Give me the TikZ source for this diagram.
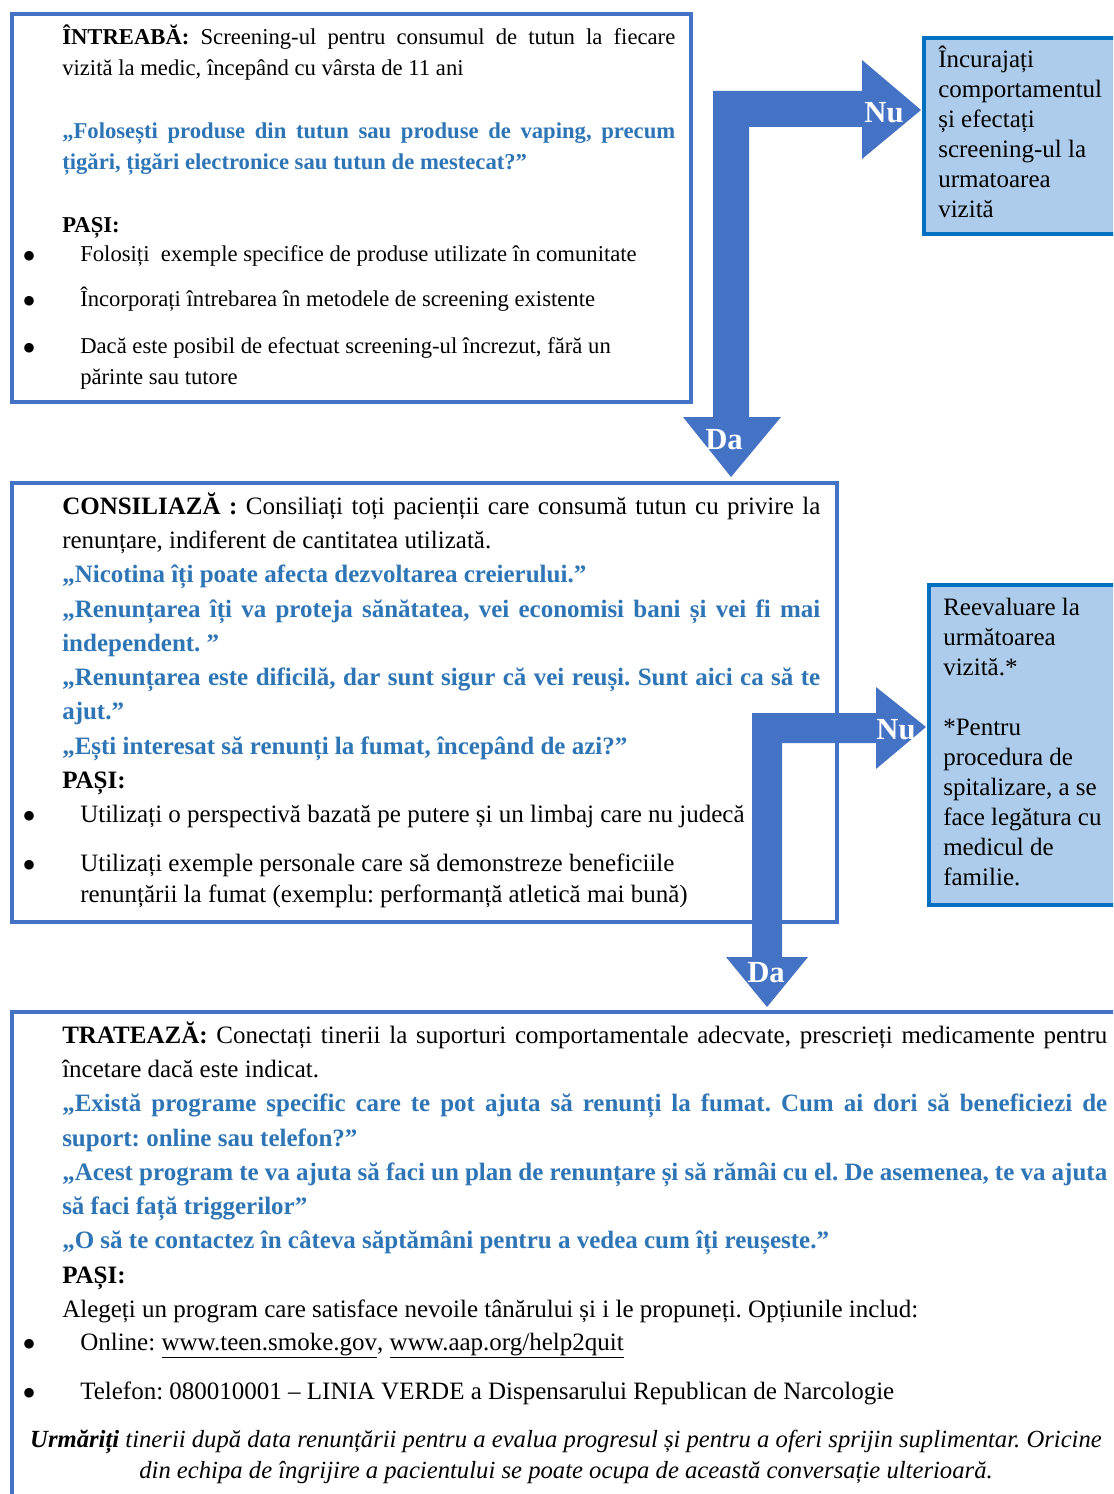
\documentclass[tikz,border=0pt]{standalone}
\usepackage{fontspec}
\setmainfont{Liberation Serif}
\definecolor{boxblue}{HTML}{4472C4}
\definecolor{sideborder}{HTML}{0070C0}
\definecolor{sidefill}{HTML}{ADCBEA}
\definecolor{quoteblue}{HTML}{2E75B6}
\newcommand\jl[2]{\makebox[#1][s]{#2}}
\newcommand\fsz[2]{\fontsize{#1}{#2}\selectfont}
\newcommand\qline[1]{\textcolor{quoteblue}{\bfseries #1}}
\newcommand\st{\rule{0pt}{1em}}
\frenchspacing
\begin{document}
\begin{tikzpicture}[x=0.75pt,y=-0.75pt,
  boxframe/.style={draw=boxblue, line width=3pt, anchor=north west, inner sep=0pt},
  sideframe/.style={draw=sideborder, fill=sidefill, line width=3pt, anchor=north west, inner sep=0pt},
  txtnode/.style={anchor=north west, inner sep=0pt, align=left, execute at begin node=\frenchspacing},
  ftop/.style={font=\fsz{17}{23.25}},
  fmain/.style={font=\fsz{18.75}{25.69}},
  fwrap/.style={font=\fsz{18.75}{23.25}},
  fside/.style={font=\fsz{18.75}{22.5}},
  bulnode/.style={anchor=center, inner sep=0pt, font=\fsz{30}{30}},
  arrlabel/.style={text=white, font=\bfseries\fsz{23}{23}, inner sep=0pt},
  blockarrow/.style={fill=boxblue}
]
\useasboundingbox (0,0) rectangle (1113,1494);
\fill[white] (0,0) rectangle (1113,1494);
\clip (0,0) rectangle (1113,1494);

% boxes
\node[boxframe, minimum width=509.25pt, minimum height=291pt] (askbox) at (10,12) {};
\node[boxframe, minimum width=618.75pt, minimum height=329.25pt] (consbox) at (10,481) {};
\node[boxframe, minimum width=836.25pt, minimum height=375pt] (treatbox) at (10,1010) {};
\node[sideframe, minimum width=152.25pt, minimum height=147pt] (encbox) at (922,36) {};
\node[sideframe, minimum width=148.5pt, minimum height=240pt] (reevbox) at (927,583) {};

% ASK box text
\node[txtnode, ftop] (ask1) at (62,21.3) {\st\jl{459.75pt}{\textbf{ÎNTREABĂ:} Screening-ul pentru consumul de tutun la fiecare}\\ vizită la medic, începând cu vârsta de 11 ani};
\node[txtnode, ftop] (ask2) at (62,115.3) {\st\qline{\jl{459.75pt}{„Folosești produse din tutun sau produse de vaping, precum}}\\ \qline{țigări, țigări electronice sau tutun de mestecat?”}};
\node[txtnode, ftop] (ask3) at (62,209.3) {\st\textbf{PAȘI:}};
\node[bulnode] (askb1d) at (30,260) {•};
\node[bulnode] (askb2d) at (30,305) {•};
\node[bulnode] (askb3d) at (30,352) {•};
\node[txtnode, ftop] (askb1) at (80,238.3) {\st Folosiți\ \ exemple specifice de produse utilizate în comunitate};
\node[txtnode, ftop] (askb2) at (80,283.3) {\st Încorporați întrebarea în metodele de screening existente};
\node[txtnode, ftop] (askb3) at (80,330.3) {\st Dacă este posibil de efectuat screening-ul încrezut, fără un\\ părinte sau tutore};

% right box 1
\node[txtnode, fside] (enc) at (938,42) {\st Încurajați\\ comportamentul\\ și efectați\\ screening-ul la\\ urmatoarea\\ vizită};

% COUNSEL box text
\node[txtnode, fmain] (cons) at (62,489) {\st\jl{568.5pt}{\textbf{CONSILIAZĂ :} Consiliați toți pacienții care consumă tutun cu privire la}\\
renunțare, indiferent de cantitatea utilizată.\\
\qline{„Nicotina îți poate afecta dezvoltarea creierului.”}\\
\qline{\jl{568.5pt}{„Renunțarea îți va proteja sănătatea, vei economisi bani și vei fi mai}}\\
\qline{independent.\ ”}\\
\qline{\jl{568.5pt}{„Renunțarea este dificilă, dar sunt sigur că vei reuși. Sunt aici ca să te}}\\
\qline{ajut.”}\\
\qline{„Ești interesat să renunți la fumat, începând de azi?”}\\
\textbf{PAȘI:}};
\node[bulnode] (consb1d) at (30,820) {•};
\node[bulnode] (consb2d) at (30,869) {•};
\node[txtnode, fmain] (consb1) at (80,797) {\st Utilizați o perspectivă bazată pe putere și un limbaj care nu judecă};
\node[txtnode, fwrap] (consb2) at (80,846) {\st Utilizați exemple personale care să demonstreze beneficiile\\ renunțării la fumat (exemplu: performanță atletică mai bună)};

% right box 2
\node[txtnode, fside] (reev) at (943,590) {\st Reevaluare la\\ următoarea\\ vizită.*\\ \mbox{}\\ *Pentru\\ procedura de\\ spitalizare, a se\\ face legătura cu\\ medicul de\\ familie.};

% TREAT box text
\node[txtnode, fmain] (treat) at (62,1018) {\st\jl{783.75pt}{\textbf{TRATEAZĂ:} Conectați tinerii la suporturi comportamentale adecvate, prescrieți medicamente pentru}\\
încetare dacă este indicat.\\
\qline{\jl{783.75pt}{„Există programe specific care te pot ajuta să renunți la fumat. Cum ai dori să beneficiezi de}}\\
\qline{suport: online sau telefon?”}\\
\qline{\jl{783.75pt}{„Acest program te va ajuta să faci un plan de renunțare și să rămâi cu el. De asemenea, te va ajuta}}\\
\qline{să faci față triggerilor”}\\
\qline{„O să te contactez în câteva săptămâni pentru a vedea cum îți reușeste.”}\\
\textbf{PAȘI:}\\
Alegeți un program care satisface nevoile tânărului și i le propuneți. Opțiunile includ:};
\node[bulnode] (treatb1d) at (30,1348) {•};
\node[bulnode] (treatb2d) at (30,1397) {•};
\node[txtnode, fmain] (treatb1) at (80,1325) {\st Online: \underline{www.teen.smoke.gov}, \underline{www.aap.org/help2quit}};
\node[txtnode, fmain] (treatb2) at (80,1374) {\st Telefon: 080010001 – LINIA VERDE a Dispensarului Republican de Narcologie};
\node[anchor=north, inner sep=0pt, align=center, font=\itshape\fsz{18.5}{23.25}, execute at begin node=\frenchspacing] (follow) at (566,1423) {\st\textbf{Urmăriți} tinerii după data renunțării pentru a evalua progresul și pentru a oferi sprijin suplimentar. Oricine\\ din echipa de îngrijire a pacientului se poate ocupa de această conversație ulterioară.};

% block arrows
\fill[blockarrow] (713,91) -- (862,91) -- (862,60) -- (921,110) -- (862,159) -- (862,127) -- (749,127) -- (749,417) -- (781,417) -- (731,477) -- (683,417) -- (713,417) -- cycle;
\fill[blockarrow] (752,713) -- (876,713) -- (876,687) -- (926,727) -- (876,769) -- (876,743) -- (782,743) -- (782,957) -- (808,957) -- (767,1007) -- (726,957) -- (752,957) -- cycle;
\node[arrlabel] (nu1) at (884,113) {Nu};
\node[arrlabel] (da1) at (724,440) {Da};
\node[arrlabel] (nu2) at (896,730) {Nu};
\node[arrlabel] (da2) at (766,973) {Da};
\end{tikzpicture}
\end{document}
